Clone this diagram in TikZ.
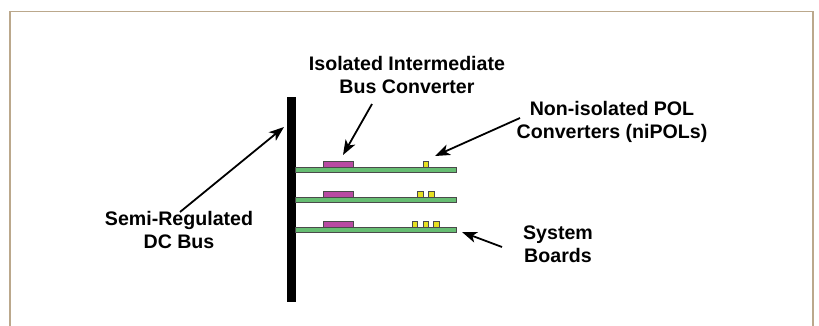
\documentclass[tikz,border=0pt]{standalone}
\usepackage{fontspec}
\setmainfont{Liberation Sans}
\usetikzlibrary{arrows.meta}
\definecolor{framecol}{HTML}{BBA88C}
\definecolor{boardgreen}{HTML}{66BD72}
\definecolor{busconv}{HTML}{B84AA2}
\definecolor{polyellow}{HTML}{E6E020}
\definecolor{edgegray}{HTML}{4A4A4A}
\tikzset{
  label text/.style={font=\bfseries\fontsize{19.6}{23}\selectfont, align=center, inner sep=0pt},
  pointer/.style={line width=1.8pt, -{Stealth[length=15pt,width=11pt,inset=4pt]}},
  board/.style={fill=boardgreen, draw=edgegray, line width=0.9pt},
  ibc/.style={fill=busconv, draw=edgegray, line width=0.9pt},
  pol/.style={fill=polyellow, draw=edgegray, line width=0.9pt},
}
\begin{document}
\begin{tikzpicture}[x=1pt, y=-1pt]
\useasboundingbox (0,0) rectangle (819,325);
% open frame
\draw[framecol, line width=1.6pt] (10,330) -- (10,11.5) -- (813,11.5) -- (813,330);

% semi-regulated DC bus
\fill[black] (286.5,97) rectangle (295.5,302);

% system boards with converters
\foreach \y/\n in {167/1, 197/2, 227/3} {
  \draw[board] (295.5,\y) rectangle (456,\y+5);
  \draw[ibc] (323,\y-6) rectangle (353,\y);
}
\draw[pol] (423,161) rectangle (428.5,167);
\draw[pol] (417.5,191) rectangle (423,197);
\draw[pol] (428.5,191) rectangle (434,197);
\draw[pol] (412,221) rectangle (417.5,227);
\draw[pol] (423,221) rectangle (428.5,227);
\draw[pol] (433.5,221) rectangle (439,227);

% labels
\node[label text] (semi) at (179,229.5) {Semi-Regulated\\DC Bus};
\node[label text] (iso) at (407,75) {Isolated Intermediate\\Bus Converter};
\node[label text] (nipol) at (612,121.5) {Non-isolated POL\\Converters (niPOLs)};
\node[label text] (sysb) at (558,244) {System\\Boards};

% pointer end points
\coordinate (semitail) at (180,212);
\coordinate (semitip) at (284,127);
\coordinate (isotail) at (372,104);
\coordinate (isotip) at (343,155);
\coordinate (poltail) at (520,118);
\coordinate (poltip) at (435,156);
\coordinate (systail) at (502,247);
\coordinate (systip) at (462,232);

\draw[pointer] (semitail) -- (semitip);
\draw[pointer] (isotail) -- (isotip);
\draw[pointer] (poltail) -- (poltip);
\draw[pointer] (systail) -- (systip);
\end{tikzpicture}
\end{document}
